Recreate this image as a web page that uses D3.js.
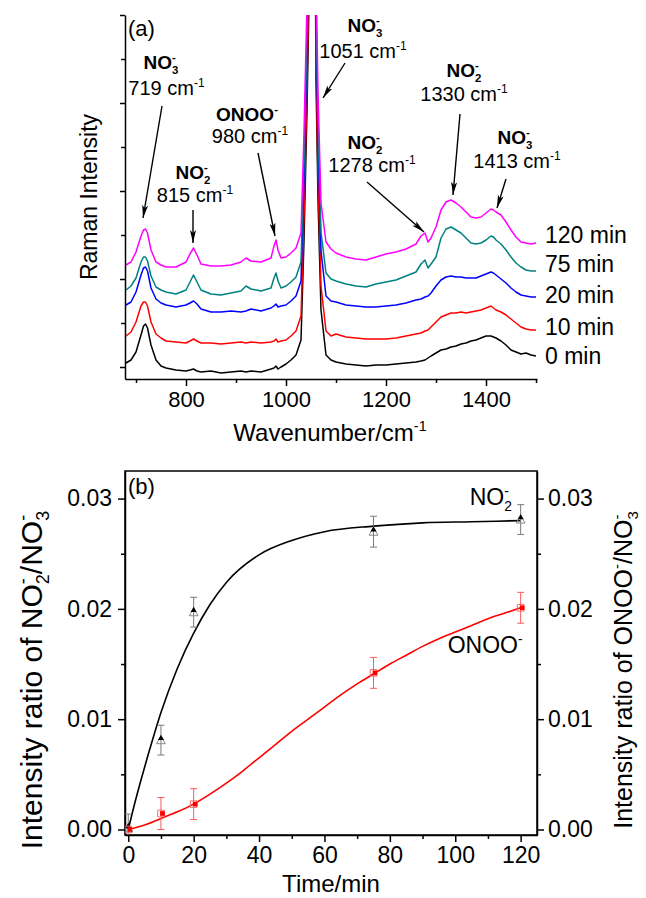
<!DOCTYPE html>
<html>
<head>
<meta charset="utf-8">
<title>Raman spectra / intensity ratios</title>
<script src="https://cdn.jsdelivr.net/npm/d3@7"></script>
<style>
  html, body { margin: 0; padding: 0; background: #fff; }
  svg { display: block; font-family: "Liberation Sans", Arial, sans-serif; }
</style>
</head>
<body>
<div id="chart"></div>
<script>
// ---------- panel (a): Raman spectra ----------
var wavenumbers = [680,690,700,710,715,719,723,730,740,750,760,
  780,800,808,815,822,830, 850,870,890,910,920,930,950,
  970,976,980,984,990,1000, 1010,1020,1030,1036,1042,1046,1051,1056,1060,1064,1070,1080,1090,
  1100,1120,1140,1160,1180,1200,1220,1240,1260,
  1270,1278,1284,1290,1300,1310,1320,1330,1340,1350,1360,1370,1380,1390,1400,1410,1415,1420,1430,1440,1450,1460,1470,1480,1490,1500];

var spec0 = [4,7,15,32,41,43,39,22,7,1,-1,
  -3,-4,-3,-2,-4,-5, -4,-6,-5,-4,-5,-4,-5,
  -2,-1,1,-2,0,3, 7,12,27,127,257,367,667,617,287,167,57,12,7,
  5,3,2,1,2,2,3,4,5,
  6,7,9,11,14,17,18,20,21,23,24,26,27,29,31,31,30,29,26,22,17,15,13,14,12,11];
var spec10 = [31,35,45,61,65,65,61,45,33,29,26,
  25,24,26,28,26,24, 24,23,24,25,24,25,24,
  25,26,28,25,26,27, 31,36,51,151,281,391,691,641,311,191,81,36,31,
  33,30,29,28,28,28,29,31,33,
  34,36,37,40,45,50,52,54,54,55,54,55,56,57,59,61,59,57,55,52,48,44,40,38,37,37];
var spec20 = [62,65,75,92,99,100,96,79,68,64,62,
  60,62,64,66,63,58, 55,55,56,55,56,58,56,
  59,61,63,60,61,62, 66,71,86,186,316,426,726,676,346,226,116,71,66,
  65,62,61,60,60,61,62,64,67,
  68,70,71,74,81,87,90,91,90,90,89,89,89,91,93,95,94,92,88,84,79,75,72,71,70,70];
var spec75 = [77,81,89,105,110,110,106,91,80,77,75,
  73,77,85,92,85,77, 73,72,74,76,81,78,76,
  79,89,94,86,79,81, 85,90,105,205,335,445,745,695,365,245,135,94,88,
  86,83,81,80,83,85,87,91,95,
  103,107,99,103,110,129,138,140,137,134,129,124,123,124,127,131,130,127,123,117,110,104,100,97,96,96];
var spec120 = [102,105,115,131,137,138,134,117,105,102,100,
  100,105,113,119,112,103, 101,101,102,105,109,106,105,
  109,121,127,117,109,110, 114,119,134,234,364,474,774,724,394,274,164,125,118,
  114,110,108,107,110,113,115,118,123,
  131,134,125,129,140,157,165,167,164,160,155,150,149,150,154,158,157,155,152,145,137,130,125,124,123,124];

var spectraNames = ["0 min", "10 min", "20 min", "75 min", "120 min"];
var spectraColors = ["#000000", "#ff0000", "#0000ff", "#008080", "#ff00ff"];
var spectraLabelY = [3, 32, 64, 95, 124];

var wnTicks = [800, 1000, 1200, 1400];
var wnMinor = [700, 900, 1100, 1300, 1500];
var intensityTicks = [0, 88, 176, 264, 352];
var intensityMinor = [44, 132, 220, 308];

// peak annotations, in data units (wavenumber, intensity)
var peakLabels = [
  {ion: "NO", sub: "3", num: "719",  ix: 750,  iy: 298, ny: 272, nx: 761,  tail: [752, 261],  tip: [714, 149]},
  {ion: "NO", sub: "2", num: "815",  ix: 814,  iy: 188, ny: 165, nx: 818,  tail: [814, 157],  tip: [814, 124]},
  {ion: "ONOO", sub: "", num: "980", ix: 922,  iy: 246, ny: 224, nx: 928,  tail: [944, 214],  tip: [978, 131]},
  {ion: "NO", sub: "3", num: "1051", ix: 1158, iy: 335, ny: 309, nx: 1154, tail: [1118, 304], tip: [1074, 269]},
  {ion: "NO", sub: "2", num: "1278", ix: 1158, iy: 218, ny: 195, nx: 1172, tail: [1162, 185], tip: [1276, 135]},
  {ion: "NO", sub: "2", num: "1330", ix: 1356, iy: 290, ny: 266, nx: 1356, tail: [1348, 253], tip: [1334, 172]},
  {ion: "NO", sub: "3", num: "1413", ix: 1458, iy: 223, ny: 199, nx: 1462, tail: [1440, 188], tip: [1422, 159]}
];

// ---------- panel (b): intensity ratios ----------
var times = [0, 10, 20, 75, 120];
var no2Ratio = [0.0001, 0.0081, 0.0197, 0.0270, 0.0281];
var no2Err = [0.0013, 0.00135, 0.00135, 0.0014, 0.00135];
var onooRatio = [0.0, 0.00145, 0.0023, 0.0142, 0.0201];
var onooErr = [0.0, 0.00145, 0.0014, 0.0014, 0.0014];

var no2FitT = [0, 2, 4, 6, 8, 10, 15, 20, 25, 30, 40, 50, 60, 75, 90, 105, 120];
var no2FitY = [0, 0.0024, 0.0046, 0.0067, 0.0087, 0.0106, 0.0146, 0.0178, 0.0204, 0.0224, 0.0249, 0.0262, 0.0270, 0.0275, 0.0278, 0.0279, 0.0280];
var onooFitT = [0, 5, 10, 15, 20, 25, 30, 35, 40, 45, 50, 55, 60, 65, 70, 75, 80, 85, 90, 95, 100, 105, 110, 115, 120];
var onooFitY = [0, 0.0004, 0.0010, 0.0016, 0.0023, 0.0032, 0.0042, 0.0053, 0.0065, 0.0077, 0.0089, 0.0100, 0.0111, 0.0122, 0.0132, 0.0141, 0.0150, 0.0158, 0.0166, 0.0173, 0.0179, 0.0185, 0.0191, 0.0196, 0.0201];

var timeTicks = [0, 20, 40, 60, 80, 100, 120];
var timeMinor = [10, 30, 50, 70, 90, 110];
var ratioTicks = [0, 0.01, 0.02, 0.03];
var ratioMinor = [0.005, 0.015, 0.025];

// ---------- drawing ----------
var W = 646, H = 898;
var svg = d3.select("#chart").append("svg").attr("width", W).attr("height", H);
svg.append("rect").attr("width", W).attr("height", H).attr("fill", "#fff");

var defs = svg.append("defs");
defs.append("marker")
    .attr("id", "arrow")
    .attr("viewBox", "0 0 13 6")
    .attr("refX", 13).attr("refY", 3)
    .attr("markerWidth", 13).attr("markerHeight", 6)
    .attr("markerUnits", "userSpaceOnUse")
    .attr("orient", "auto")
  .append("path")
    .attr("d", "M0,0 L13,3 L0,6 L3,3 Z")
    .attr("fill", "#000");

// text with stacked super/subscripts
function rich(txt, parts, fs) {
  var shift = 0;
  parts.forEach(function(p) {
    if (typeof p === "string") {
      txt.append("tspan").attr("dy", -shift).text(p);
      shift = 0;
    } else {
      var small = fs * 0.6;
      var supDy = -fs * 0.42;
      var s = txt.append("tspan").attr("font-size", small).attr("dy", supDy - shift).text(p.sup || "");
      shift = supDy;
      if (p.sub) {
        var w = p.sup ? s.node().getComputedTextLength() : 0;
        var subDy = fs * 0.24;
        txt.append("tspan").attr("font-size", small)
          .attr("dx", -w).attr("dy", subDy - shift).text(p.sub);
        shift = subDy;
      }
    }
  });
}

function styleAxis(g) {
  g.selectAll("path, line").attr("stroke", "#000").attr("stroke-width", 1.5);
  g.selectAll("text").attr("fill", "#000").attr("font-family", null);
}

// ---- panel (a)
var xA = d3.scaleLinear().domain([678, 1502]).range([125, 537]);
var yA = d3.scaleLinear().domain([-12, 352]).range([379, 15]);

defs.append("clipPath").attr("id", "clipA").append("rect")
    .attr("x", 125).attr("y", 15).attr("width", 412).attr("height", 364);

var spectra = [spec0, spec10, spec20, spec75, spec120];
var lineA = d3.line()
    .x(function(d, i) { return xA(wavenumbers[i]); })
    .y(function(d) { return yA(d); });

svg.append("g").attr("clip-path", "url(#clipA)")
  .selectAll("path").data(spectra).enter().append("path")
    .attr("d", lineA)
    .attr("fill", "none")
    .attr("stroke", function(d, i) { return spectraColors[i]; })
    .attr("stroke-width", 1.5)
    .attr("stroke-linejoin", "round");

var gxA = svg.append("g").attr("transform", "translate(0,379)")
    .call(d3.axisBottom(xA).tickValues(wnTicks).tickSize(7).tickSizeOuter(0).tickPadding(5).tickFormat(d3.format("d")));
gxA.selectAll("text").attr("font-size", 22);
styleAxis(gxA);
var gxAm = svg.append("g").attr("transform", "translate(0,379)")
    .call(d3.axisBottom(xA).tickValues(wnMinor).tickSize(4).tickFormat(""));
gxAm.select(".domain").remove();
styleAxis(gxAm);

var gyA = svg.append("g").attr("transform", "translate(125,0)")
    .call(d3.axisLeft(yA).tickValues(intensityTicks).tickSize(5).tickSizeOuter(0).tickFormat(""));
styleAxis(gyA);
var gyAm = svg.append("g").attr("transform", "translate(125,0)")
    .call(d3.axisLeft(yA).tickValues(intensityMinor).tickSize(4).tickFormat(""));
gyAm.select(".domain").remove();
styleAxis(gyAm);

// series labels
svg.append("g").selectAll("text").data(spectraNames).enter().append("text")
    .attr("x", xA(1500) + 9)
    .attr("y", function(d, i) { return yA(spectraLabelY[i]); })
    .attr("font-size", 23)
    .text(function(d) { return d; });

// peak annotations
var ann = svg.append("g");
peakLabels.forEach(function(p) {
  var t1 = ann.append("text").attr("x", xA(p.ix)).attr("y", yA(p.iy))
      .attr("text-anchor", "middle").attr("font-size", 19).attr("font-weight", "bold");
  rich(t1, p.sub ? [p.ion, {sup: "-", sub: p.sub}] : [p.ion, {sup: "-"}], 19);
  var t2 = ann.append("text").attr("x", xA(p.nx)).attr("y", yA(p.ny))
      .attr("text-anchor", "middle").attr("font-size", 20);
  rich(t2, [p.num + " cm", {sup: "-1"}], 20);
  ann.append("line")
      .attr("x1", xA(p.tail[0])).attr("y1", yA(p.tail[1]))
      .attr("x2", xA(p.tip[0])).attr("y2", yA(p.tip[1]))
      .attr("stroke", "#000").attr("stroke-width", 1.4)
      .attr("marker-end", "url(#arrow)");
});

svg.append("text").attr("x", 128).attr("y", 36).attr("font-size", 22).text("(a)");

rich(svg.append("text").attr("x", 330).attr("y", 441).attr("text-anchor", "middle").attr("font-size", 24),
     ["Wavenumber/cm", {sup: "-1"}], 24);
svg.append("text").attr("transform", "translate(97,197) rotate(-90)")
    .attr("text-anchor", "middle").attr("font-size", 23).text("Raman Intensity");

// ---- panel (b)
var xB = d3.scaleLinear().domain([-1, 125]).range([125, 537]);
var yB = d3.scaleLinear().domain([-0.0005, 0.0325]).range([835, 471]);

defs.append("clipPath").attr("id", "clipB").append("rect")
    .attr("x", 125).attr("y", 471).attr("width", 412).attr("height", 364);

svg.append("rect").attr("x", 125).attr("y", 471).attr("width", 412).attr("height", 364)
    .attr("fill", "none").attr("stroke", "#000").attr("stroke-width", 1.5);

var gxB = svg.append("g").attr("transform", "translate(0,835)")
    .call(d3.axisBottom(xB).tickValues(timeTicks).tickSize(7).tickSizeOuter(0).tickPadding(5).tickFormat(d3.format("d")));
gxB.selectAll("text").attr("font-size", 23);
styleAxis(gxB);
var gxBm = svg.append("g").attr("transform", "translate(0,835)")
    .call(d3.axisBottom(xB).tickValues(timeMinor).tickSize(4).tickFormat(""));
gxBm.select(".domain").remove();
styleAxis(gxBm);

var gyB = svg.append("g").attr("transform", "translate(125,0)")
    .call(d3.axisLeft(yB).tickValues(ratioTicks).tickSize(7).tickSizeOuter(0).tickPadding(6).tickFormat(d3.format(".2f")));
gyB.selectAll("text").attr("font-size", 23);
styleAxis(gyB);
var gyBm = svg.append("g").attr("transform", "translate(125,0)")
    .call(d3.axisLeft(yB).tickValues(ratioMinor).tickSize(4).tickFormat(""));
gyBm.select(".domain").remove();
styleAxis(gyBm);

var gyR = svg.append("g").attr("transform", "translate(537,0)")
    .call(d3.axisRight(yB).tickValues(ratioTicks).tickSize(7).tickSizeOuter(0).tickPadding(4).tickFormat(d3.format(".2f")));
gyR.selectAll("text").attr("font-size", 23);
styleAxis(gyR);
var gyRm = svg.append("g").attr("transform", "translate(537,0)")
    .call(d3.axisRight(yB).tickValues(ratioMinor).tickSize(4).tickFormat(""));
gyRm.select(".domain").remove();
styleAxis(gyRm);

var plotB = svg.append("g").attr("clip-path", "url(#clipB)");

function fitLine(ts) {
  return d3.line().curve(d3.curveMonotoneX)
    .x(function(d, i) { return xB(ts[i]); })
    .y(function(d) { return yB(d); });
}
plotB.append("path").datum(no2FitY).attr("d", fitLine(no2FitT))
    .attr("fill", "none").attr("stroke", "#000").attr("stroke-width", 1.6);
plotB.append("path").datum(onooFitY).attr("d", fitLine(onooFitT))
    .attr("fill", "none").attr("stroke", "#ff0000").attr("stroke-width", 1.6);

function errorBars(vals, errs, color) {
  var g = plotB.append("g").attr("stroke", color).attr("stroke-width", 1).attr("fill", "none");
  vals.forEach(function(v, i) {
    if (!errs[i]) return;
    var x = xB(times[i]), y0 = yB(v - errs[i]), y1 = yB(v + errs[i]);
    g.append("line").attr("x1", x).attr("x2", x).attr("y1", y0).attr("y2", y1);
    g.append("line").attr("x1", x - 3.5).attr("x2", x + 3.5).attr("y1", y0).attr("y2", y0);
    g.append("line").attr("x1", x - 3.5).attr("x2", x + 3.5).attr("y1", y1).attr("y2", y1);
  });
}
errorBars(no2Ratio, no2Err, "#7a7a7a");
errorBars(onooRatio, onooErr, "#ff5a5a");

var triOpen = d3.symbol().type(d3.symbolTriangle).size(34);
var triFill = d3.symbol().type(d3.symbolTriangle).size(16);
var sqOpen = d3.symbol().type(d3.symbolSquare).size(44);
var sqFill = d3.symbol().type(d3.symbolSquare).size(22);

plotB.append("g").selectAll("path").data(no2Ratio).enter().append("path")
    .attr("d", triOpen)
    .attr("transform", function(d, i) { return "translate(" + xB(times[i]) + "," + (yB(d) + 1) + ")"; })
    .attr("fill", "none").attr("stroke", "#8a8a8a").attr("stroke-width", 1);
plotB.append("g").selectAll("path").data(no2Ratio).enter().append("path")
    .attr("d", triFill)
    .attr("transform", function(d, i) { return "translate(" + xB(times[i]) + "," + (yB(d) - 2) + ")"; })
    .attr("fill", "#000");
plotB.append("g").selectAll("path").data(onooRatio).enter().append("path")
    .attr("d", sqOpen)
    .attr("transform", function(d, i) { return "translate(" + xB(times[i]) + "," + yB(d) + ")"; })
    .attr("fill", "none").attr("stroke", "#ff6a6a").attr("stroke-width", 1);
plotB.append("g").selectAll("path").data(onooRatio).enter().append("path")
    .attr("d", sqFill)
    .attr("transform", function(d, i) { return "translate(" + (xB(times[i]) + 1.5) + "," + yB(d) + ")"; })
    .attr("fill", "#ff0000");

svg.append("text").attr("x", 128).attr("y", 494).attr("font-size", 22).text("(b)");
rich(svg.append("text").attr("x", xB(104.4)).attr("y", yB(0.0294)).attr("font-size", 23),
     ["NO", {sup: "-", sub: "2"}], 23);
rich(svg.append("text").attr("x", xB(97.7)).attr("y", yB(0.01596)).attr("font-size", 23),
     ["ONOO", {sup: "-"}], 23);

svg.append("text").attr("x", 331).attr("y", 892).attr("text-anchor", "middle")
    .attr("font-size", 24).text("Time/min");
rich(svg.append("text").attr("transform", "translate(42,680) rotate(-90)")
       .attr("text-anchor", "middle").attr("font-size", 30),
     ["Intensity ratio of NO", {sup: "-", sub: "2"}, "/NO", {sup: "-", sub: "3"}], 30);
rich(svg.append("text").attr("transform", "translate(632,670) rotate(-90)")
       .attr("text-anchor", "middle").attr("font-size", 25),
     ["Intensity ratio of ONOO", {sup: "-"}, "/NO", {sup: "-", sub: "3"}], 25);
</script>
</body>
</html>
